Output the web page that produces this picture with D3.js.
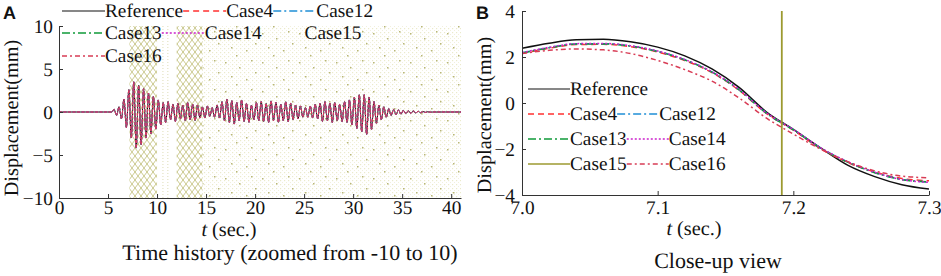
<!DOCTYPE html>
<html>
<head>
<meta charset="utf-8">
<script src="https://cdn.jsdelivr.net/npm/d3@7"></script>
<style>
  body { margin: 0; background: #fff; }
  svg text { text-rendering: geometricPrecision; }
</style>
</head>
<body>
<div id="chart"></div>
<script>
// ---- data ----
// panel A: oscillation read as one peak + one trough per cycle
const cycleStart = 5.5, cyclePeriod = 0.5, historyEnd = 41;
const refPeaks = [0.3, 0.6, 1.5, 2.6, 3.5, 3.1, 2.7, 2.2, 1.8, 1.4, 1.1, 1.2, 0.9, 1.0, 0.8, 1.1,
  0.9, 0.8, 0.6, 0.7, 0.5, 0.8, 1.2, 1.5, 1.3, 1.1, 1.4, 1.0, 0.8, 1.1, 1.2, 1.0, 1.3, 1.1, 0.9,
  1.2, 1.0, 0.8, 0.7, 0.5, 0.7, 0.9, 1.0, 1.2, 1.0, 1.1, 0.9, 1.2, 1.4, 1.7, 2.0, 2.0, 1.7, 1.2,
  0.8, 0.6, 0.4, 0.3, 0.25, 0.2, 0.15, 0.12, 0.08, 0.05, 0.03];
const refTroughs = [-0.4, -0.8, -1.8, -3.0, -4.2, -3.8, -3.0, -2.5, -2.0, -1.5, -1.2, -0.9, -1.1, -0.8,
  -1.0, -0.9, -1.0, -0.7, -0.7, -0.5, -0.6, -0.7, -1.0, -1.2, -1.4, -1.0, -1.1, -1.2, -0.9, -1.0,
  -1.1, -1.2, -1.0, -1.2, -1.0, -1.1, -0.9, -0.8, -0.6, -0.6, -0.7, -0.8, -1.1, -1.0, -1.2, -1.0,
  -1.1, -1.2, -1.5, -1.9, -2.3, -2.6, -2.0, -1.3, -0.9, -0.6, -0.4, -0.3, -0.25, -0.2, -0.15, -0.12,
  -0.08, -0.05, -0.03];

// Case15 diverges after ~7.19 s: in panel A it only shows as hatching between -10 and 10
const case15Bands = [
  { from: 7.19, to: 10.0, kind: "dense" },
  { from: 12.0, to: 14.65, kind: "dense" },
  { from: 14.65, to: 41, kind: "sparse" }
];
const case15Strays = [10.6, 11.1];

// panel B: close-up 7.0 - 7.3 s
const closeT = [7.00, 7.02, 7.04, 7.06, 7.08, 7.10, 7.12, 7.14, 7.16, 7.18, 7.20, 7.22, 7.24, 7.26, 7.28, 7.30];
const closeRef    = [2.38, 2.60, 2.75, 2.77, 2.66, 2.43, 2.05, 1.48, 0.68, -0.38, -1.15, -1.95, -2.70, -3.20, -3.55, -3.74];
const closeCase4  = [2.15, 2.38, 2.54, 2.55, 2.45, 2.22, 1.85, 1.32, 0.55, -0.45, -1.18, -1.98, -2.58, -3.00, -3.28, -3.38];
const closeCase12 = [2.18, 2.41, 2.57, 2.58, 2.48, 2.25, 1.88, 1.35, 0.58, -0.43, -1.16, -1.95, -2.56, -3.02, -3.32, -3.44];
const closeCase13 = [2.17, 2.40, 2.56, 2.57, 2.47, 2.24, 1.87, 1.34, 0.57, -0.44, -1.17, -1.96, -2.57, -3.03, -3.33, -3.43];
const closeCase14 = [2.19, 2.42, 2.58, 2.59, 2.49, 2.26, 1.89, 1.36, 0.59, -0.42, -1.15, -1.94, -2.55, -3.01, -3.33, -3.45];
const closeCase16 = [2.15, 2.29, 2.35, 2.31, 2.15, 1.85, 1.45, 0.95, 0.22, -0.65, -1.35, -2.00, -2.55, -2.95, -3.18, -3.25];
const case15JumpT = 7.1915;

const seriesStyle = {
  Reference: { color: "#111111", dash: null },
  Case4:  { color: "#ff3030", dash: "6,4" },
  Case12: { color: "#1f8fd6", dash: "8,3,2,3" },
  Case13: { color: "#119a3a", dash: "8,3,2,3" },
  Case14: { color: "#cc22cc", dash: "2,2" },
  Case15: { color: "#9c9a30", dash: null },
  Case16: { color: "#d83c55", dash: "5,3,2,3" }
};

// ---- chart ----
const serif = "'Liberation Serif', 'Times New Roman', Times, serif";
const width = 941, height = 276;
const svg = d3.select("#chart").append("svg")
  .attr("width", width).attr("height", height)
  .style("font-family", serif);
const defs = svg.append("defs");

const dense = defs.append("pattern").attr("id", "dense")
  .attr("patternUnits", "userSpaceOnUse").attr("width", 6).attr("height", 8);
dense.append("path").attr("d", "M0,0L3,4L0,8M6,0L3,4L6,8")
  .attr("fill", "none").attr("stroke", "#aeac52").attr("stroke-width", 0.65);

const sparse = defs.append("pattern").attr("id", "sparse")
  .attr("patternUnits", "userSpaceOnUse").attr("width", 4).attr("height", 4);
sparse.append("rect").attr("width", 1.2).attr("height", 1.2).attr("fill", "#ebeacb");
sparse.append("rect").attr("x", 2).attr("y", 2).attr("width", 1).attr("height", 1).attr("fill", "#f1f0dc");

const specks = defs.append("pattern").attr("id", "specks")
  .attr("patternUnits", "userSpaceOnUse").attr("width", 37).attr("height", 29);
[[3, 4], [17, 9], [29, 2], [9, 18], [24, 21], [33, 14], [14, 26]].forEach(p => {
  specks.append("rect").attr("x", p[0]).attr("y", p[1]).attr("width", 1.5).attr("height", 1.5)
    .attr("fill", "#b8b676");
});

function styleAxis(g) {
  g.attr("font-family", null).attr("font-size", null);
  g.selectAll("path, line").attr("stroke", "#333");
  g.selectAll("text").attr("fill", "#111")
    .style("font-family", serif).style("font-size", "19.3px");
}

function addText(x, y, str, size, anchor) {
  return svg.append("text").attr("x", x).attr("y", y)
    .attr("text-anchor", anchor || "start")
    .attr("fill", "#111").style("font-family", serif).style("font-size", size + "px").text(str);
}

function drawLegend(rows, x0, baselines, lineLen, hideKey) {
  const g = svg.append("g");
  rows.forEach((row, r) => {
    let cursor = x0;
    row.forEach(name => {
      const s = seriesStyle[name];
      g.append("line")
        .attr("x1", cursor).attr("x2", cursor + lineLen)
        .attr("y1", baselines[r] - 6).attr("y2", baselines[r] - 6)
        .attr("stroke", s.color).attr("stroke-width", name === "Reference" ? 1.2 : 1.4)
        .attr("stroke-dasharray", s.dash)
        .attr("stroke-opacity", hideKey && hideKey.includes(name) ? 0 : 1);
      const t = g.append("text")
        .attr("x", cursor + lineLen).attr("y", baselines[r])
        .attr("fill", "#111").style("font-family", serif).style("font-size", "19.3px").text(name);
      cursor += lineLen + t.node().getComputedTextLength();
    });
  });
}

function panelTag(x, str) {
  svg.append("text").attr("x", x).attr("y", 19)
    .attr("font-weight", "bold").attr("fill", "#111")
    .style("font-family", "'Liberation Sans', Arial, sans-serif").style("font-size", "18px").text(str);
}

function yLabel(x, y) {
  svg.append("text").attr("transform", `translate(${x},${y}) rotate(-90)`)
    .attr("text-anchor", "middle").attr("fill", "#111")
    .style("font-family", serif).style("font-size", "20.3px").text("Displacement(mm)");
}

function tLabel(x, y) {
  const t = svg.append("text").attr("x", x).attr("y", y).attr("text-anchor", "middle")
    .attr("fill", "#111").style("font-family", serif).style("font-size", "20.3px");
  t.append("tspan").attr("font-style", "italic").text("t");
  t.append("tspan").text(" (sec.)");
}

// ---------- panel A ----------
const xA = d3.scaleLinear().domain([0, historyEnd]).range([59, 461]);
const yA = d3.scaleLinear().domain([-10, 10]).range([198, 26]);

defs.append("clipPath").attr("id", "clipA").append("rect")
  .attr("x", xA(0)).attr("y", yA(10)).attr("width", xA(historyEnd) - xA(0)).attr("height", yA(-10) - yA(10));

const plotA = svg.append("g").attr("clip-path", "url(#clipA)");

case15Bands.forEach(b => {
  plotA.append("rect")
    .attr("x", xA(b.from)).attr("y", yA(10))
    .attr("width", xA(b.to) - xA(b.from)).attr("height", yA(-10) - yA(10))
    .attr("fill", b.kind === "dense" ? "url(#dense)" : "url(#sparse)");
  if (b.kind === "sparse") {
    plotA.append("rect")
      .attr("x", xA(b.from)).attr("y", yA(10))
      .attr("width", xA(b.to) - xA(b.from)).attr("height", yA(-10) - yA(10))
      .attr("fill", "url(#specks)");
  }
});
case15Strays.forEach(t => {
  plotA.append("line")
    .attr("x1", xA(t)).attr("x2", xA(t)).attr("y1", yA(10)).attr("y2", yA(-10))
    .attr("stroke", "#d6d4a4").attr("stroke-width", 0.8).attr("stroke-dasharray", "1,2");
});

// build the time history from the peak / trough lists
const history = [{ t: 0, v: 0 }, { t: cycleStart - 0.1, v: 0 }];
refPeaks.forEach((p, i) => {
  const t = cycleStart + i * cyclePeriod;
  history.push({ t: t + cyclePeriod * 0.25, v: p });
  history.push({ t: t + cyclePeriod * 0.75, v: refTroughs[i] });
});
history.push({ t: cycleStart + refPeaks.length * cyclePeriod + 0.1, v: 0 });
history.push({ t: historyEnd, v: 0 });

const lineA = d3.line().x(d => xA(d.t)).y(d => yA(d.v)).curve(d3.curveMonotoneX);
["Reference", "Case4", "Case12", "Case13", "Case14", "Case16"].forEach(name => {
  const s = seriesStyle[name];
  plotA.append("path").datum(history)
    .attr("fill", "none").attr("stroke", s.color).attr("stroke-width", 1)
    .attr("stroke-dasharray", s.dash ? "3,1.5" : null)
    .attr("d", lineA);
});

svg.append("g").attr("transform", `translate(0,${yA(-10)})`)
  .call(d3.axisBottom(xA).tickValues([0, 5, 10, 15, 20, 25, 30, 35, 40])
    .tickSize(-4).tickSizeOuter(0).tickPadding(2))
  .call(styleAxis);
svg.append("g").attr("transform", `translate(${xA(0)},0)`)
  .call(d3.axisLeft(yA).tickValues([-10, -5, 0, 5, 10])
    .tickSize(-4).tickSizeOuter(0).tickPadding(6))
  .call(styleAxis);

drawLegend([["Reference", "Case4", "Case12"], ["Case13", "Case14", "Case15"], ["Case16"]],
  62, [17, 39, 62], 43, ["Case15"]);

panelTag(3, "A");
yLabel(18, 118);
tLabel(229, 236);
addText(290, 260, "Time history (zoomed from -10 to 10)", 22, "middle");

// ---------- panel B ----------
const xB = d3.scaleLinear().domain([7.0, 7.3]).range([522, 929]);
const yB = d3.scaleLinear().domain([-4, 4]).range([195, 11]);

defs.append("clipPath").attr("id", "clipB").append("rect")
  .attr("x", xB(7.0)).attr("y", yB(4)).attr("width", xB(7.3) - xB(7.0)).attr("height", yB(-4) - yB(4));
const plotB = svg.append("g").attr("clip-path", "url(#clipB)");

const lineB = d3.line().x(d => xB(d.t)).y(d => yB(d.v)).curve(d3.curveMonotoneX);
const closeSeries = [
  ["Reference", closeRef], ["Case4", closeCase4], ["Case12", closeCase12],
  ["Case13", closeCase13], ["Case14", closeCase14], ["Case15", null], ["Case16", closeCase16]
];
closeSeries.forEach(([name, vals]) => {
  const s = seriesStyle[name];
  if (!vals) {
    plotB.append("line")
      .attr("x1", xB(case15JumpT)).attr("x2", xB(case15JumpT))
      .attr("y1", yB(4)).attr("y2", yB(-4))
      .attr("stroke", s.color).attr("stroke-width", 1.8);
    return;
  }
  plotB.append("path").datum(closeT.map((t, i) => ({ t: t, v: vals[i] })))
    .attr("fill", "none").attr("stroke", s.color).attr("stroke-width", 1.5)
    .attr("stroke-dasharray", s.dash)
    .attr("d", lineB);
});

svg.append("g").attr("transform", `translate(0,${yB(-4)})`)
  .call(d3.axisBottom(xB).tickValues([7.0, 7.1, 7.2, 7.3]).tickFormat(d3.format(".1f"))
    .tickSize(-4).tickSizeOuter(0).tickPadding(5))
  .call(styleAxis);
svg.append("g").attr("transform", `translate(${xB(7.0)},0)`)
  .call(d3.axisLeft(yB).tickValues([-4, -2, 0, 2, 4])
    .tickSize(-4).tickSizeOuter(0).tickPadding(7))
  .call(styleAxis);

drawLegend([["Reference"], ["Case4", "Case12"], ["Case13", "Case14"], ["Case15", "Case16"]],
  528, [95, 120, 145, 170], 42);

panelTag(476, "B");
yLabel(491, 115);
tLabel(694, 235);
addText(718, 268, "Close-up view", 22, "middle");
</script>
</body>
</html>
